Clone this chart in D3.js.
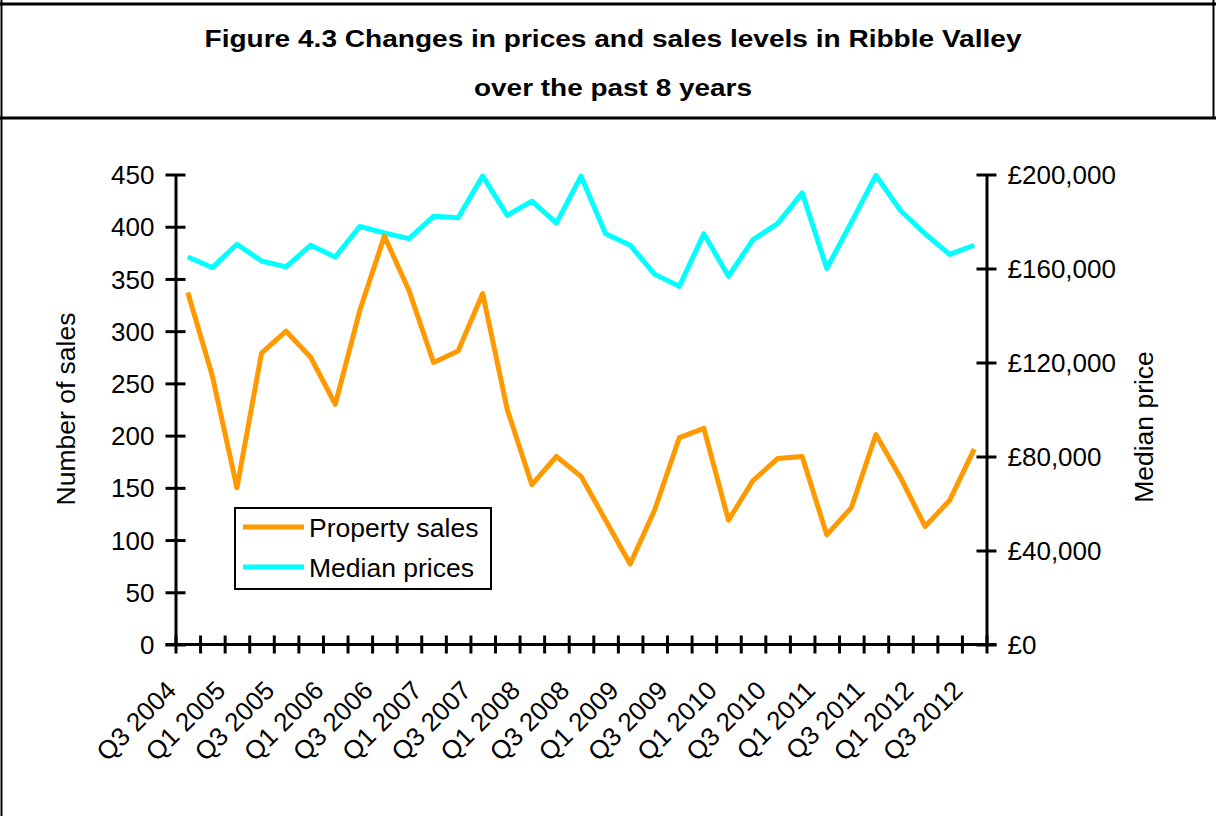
<!DOCTYPE html>
<html>

<head>
	<meta charset="utf-8">
	<title>Figure 4.3</title>
	<script src="https://d3js.org/d3.v7.min.js"></script>
</head>

<style>
	body {
		margin: 0;
		background: #fff;
	}

	text {
		font-family: "Liberation Sans", Arial, sans-serif;
		fill: #000;
	}
</style>

<body>
	<svg id="chart"
		 width="1216"
		 height="816">
	</svg>
</body>
<script>
	var quarters = ["Q3 2004", "Q4 2004", "Q1 2005", "Q2 2005", "Q3 2005", "Q4 2005", "Q1 2006", "Q2 2006",
		"Q3 2006", "Q4 2006", "Q1 2007", "Q2 2007", "Q3 2007", "Q4 2007", "Q1 2008", "Q2 2008", "Q3 2008",
		"Q4 2008", "Q1 2009", "Q2 2009", "Q3 2009", "Q4 2009", "Q1 2010", "Q2 2010", "Q3 2010", "Q4 2010",
		"Q1 2011", "Q2 2011", "Q3 2011", "Q4 2011", "Q1 2012", "Q2 2012", "Q3 2012"]

	// number of sales per quarter
	var sales = [337, 257, 150, 279, 300, 275, 230, 320, 391, 339, 270, 281, 336, 225, 153, 180, 161,
		119, 77, 129, 198, 207, 119, 157, 178, 180, 105, 131, 201, 160, 113, 138, 187]

	// median price per quarter (GBP)
	var prices = [164900, 160400, 170300, 163200, 160700, 169900, 164900, 177900, 175100, 172700, 182200,
		181600, 199300, 182600, 188700, 179300, 199300, 174800, 169900, 157500, 152400, 174800, 156700,
		172300, 179100, 192200, 160000, 179600, 199600, 184700, 174800, 166000, 169900]

	var salesTicks = [0, 50, 100, 150, 200, 250, 300, 350, 400, 450]
	var priceTicks = [0, 40000, 80000, 120000, 160000, 200000]
	var titleLines = ["Figure 4.3 Changes in prices and sales levels in Ribble Valley", "over the past 8 years"]
	var seriesNames = ["Property sales", "Median prices"]
	var seriesColors = ["#ff9900", "#00ffff"]

	var svg = d3.select("#chart")

	// frame round the title
	svg.append("line").attr("x1", 0).attr("x2", 1216).attr("y1", 4).attr("y2", 4)
		.attr("stroke", "#000").attr("stroke-width", 3)
	svg.append("line").attr("x1", 0).attr("x2", 1216).attr("y1", 118).attr("y2", 118)
		.attr("stroke", "#000").attr("stroke-width", 3)
	svg.append("line").attr("x1", 1.5).attr("x2", 1.5).attr("y1", 0).attr("y2", 816)
		.attr("stroke", "#000").attr("stroke-width", 2)
	svg.append("line").attr("x1", 1213.5).attr("x2", 1213.5).attr("y1", 0).attr("y2", 118)
		.attr("stroke", "#000").attr("stroke-width", 2)

	// the title in the picture is set wide, so stretch it to the same length
	var titleWidths = [817, 278]
	svg.selectAll(".title")
		.data(titleLines)
		.enter().append("text")
		.attr("class", "title")
		.attr("x", 613)
		.attr("y", function (d, i) { return 47 + i * 49 })
		.attr("text-anchor", "middle")
		.attr("font-weight", "bold")
		.attr("font-size", 23)
		.attr("textLength", function (d, i) { return titleWidths[i] })
		.attr("lengthAdjust", "spacingAndGlyphs")
		.text(function (d) { return d })

	var plotL = 175.5, plotR = 986.5, plotT = 174.5, plotB = 644.5

	var x = d3.scaleBand().domain(quarters).range([plotL, plotR])
	var xEdge = d3.scaleLinear().domain([0, quarters.length]).range([plotL, plotR])
	var yL = d3.scaleLinear().domain([0, 450]).range([plotB, plotT])
	var yR = d3.scaleLinear().domain([0, 200000]).range([plotB, plotT])

	function cx(d) { return x(d) + x.bandwidth() / 2 }

	function styleAxis(g) {
		g.select(".domain").attr("stroke-width", 3)
		g.selectAll(".tick line").attr("stroke-width", 3)
		g.selectAll(".tick text").attr("font-size", 26).attr("font-family", null)
	}

	// left axis
	var gL = svg.append("g")
		.attr("transform", "translate(" + plotL + ",0)")
		.call(d3.axisLeft(yL).tickValues(salesTicks).tickSizeOuter(0))
	styleAxis(gL)
	gL.selectAll(".tick line").attr("x1", 10).attr("x2", -10)
	gL.selectAll(".tick text").attr("x", -21).attr("dy", "0.35em")

	// right axis
	var gR = svg.append("g")
		.attr("transform", "translate(" + plotR + ",0)")
		.call(d3.axisRight(yR).tickValues(priceTicks).tickSizeOuter(0)
			.tickFormat(function (d) { return "£" + d3.format(",")(d) }))
	styleAxis(gR)
	gR.selectAll(".tick line").attr("x1", -10).attr("x2", 10)
	gR.selectAll(".tick text").attr("x", 21).attr("dy", "0.35em")

	// bottom axis, ticks between categories
	var gB = svg.append("g")
		.attr("transform", "translate(0," + plotB + ")")
		.call(d3.axisBottom(xEdge).tickValues(d3.range(quarters.length + 1)).tickFormat("").tickSizeOuter(0))
	styleAxis(gB)
	gB.select(".domain").attr("d", "M" + (plotL - 10) + ",0H" + (plotR + 10))
	gB.selectAll(".tick line").attr("y1", -9).attr("y2", 9)

	svg.append("g")
		.selectAll("text")
		.data(quarters.filter(function (d, i) { return i % 2 == 0 }))
		.enter().append("text")
		.attr("transform", function (d) {
			return "translate(" + (cx(d) - 10) + ",692) rotate(-45)"
		})
		.attr("text-anchor", "end")
		.attr("font-size", 26)
		.text(function (d) { return d })

	// axis titles
	svg.append("text")
		.attr("transform", "translate(75,409) rotate(-90)")
		.attr("text-anchor", "middle")
		.attr("font-size", 26.5)
		.text("Number of sales")
	svg.append("text")
		.attr("transform", "translate(1153,427) rotate(-90)")
		.attr("text-anchor", "middle")
		.attr("font-size", 26.5)
		.text("Median price")

	// lines
	var lineSales = d3.line()
		.x(function (d, i) { return cx(quarters[i]) })
		.y(function (d) { return yL(d) })
	var linePrices = d3.line()
		.x(function (d, i) { return cx(quarters[i]) })
		.y(function (d) { return yR(d) })

	svg.append("path")
		.datum(prices)
		.attr("d", linePrices)
		.attr("fill", "none")
		.attr("stroke", seriesColors[1])
		.attr("stroke-width", 5)
		.attr("stroke-linejoin", "round")
	svg.append("path")
		.datum(sales)
		.attr("d", lineSales)
		.attr("fill", "none")
		.attr("stroke", seriesColors[0])
		.attr("stroke-width", 5)
		.attr("stroke-linejoin", "round")

	// legend
	var lg = svg.append("g").attr("transform", "translate(235,508)")
	lg.append("rect")
		.attr("width", 256).attr("height", 81)
		.attr("fill", "#fff").attr("stroke", "#000").attr("stroke-width", 2)
	var item = lg.selectAll(".item")
		.data(seriesNames)
		.enter().append("g")
		.attr("transform", function (d, i) { return "translate(0," + (19 + i * 40) + ")" })
	item.append("line")
		.attr("x1", 8).attr("x2", 69)
		.attr("stroke", function (d, i) { return seriesColors[i] })
		.attr("stroke-width", 5)
	item.append("text")
		.attr("x", 74).attr("y", 10)
		.attr("font-size", 26.5)
		.text(function (d) { return d })
</script>

</html>
